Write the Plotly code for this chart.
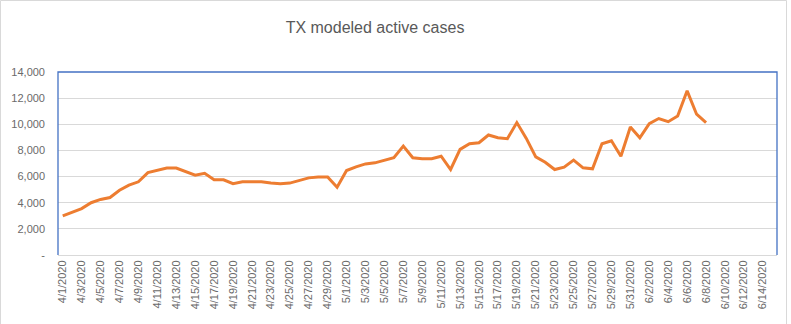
import pandas as pd
import plotly.graph_objects as go

categories = [f"{d.month}/{d.day}/{d.year}" for d in pd.date_range("2020-04-01", "2020-06-15")]
tick_labels = categories[::2]

active_cases = [
    3000, 3250, 3550, 4000, 4250, 4400, 4950, 5350, 5600, 6300,
    6500, 6650, 6650, 6350, 6100, 6250, 5750, 5750, 5450, 5600,
    5600, 5600, 5500, 5450, 5500, 5700, 5900, 5970, 5970, 5180,
    6460, 6740, 6970, 7050, 7230, 7440, 8330, 7440, 7360, 7360,
    7560, 6540, 8080, 8510, 8590, 9180, 8970, 8900, 10130, 8920,
    7510, 7100, 6540, 6720, 7260, 6670, 6590, 8510, 8740, 7560,
    9790, 8970, 10050, 10440, 10200, 10640, 12560, 10770, 10130,
]
y_ticks = [0, 2000, 4000, 6000, 8000, 10000, 12000, 14000]
y_tick_text = ["-", "2,000", "4,000", "6,000", "8,000", "10,000", "12,000", "14,000"]

W, H = 791, 324
ml, mr, mt, mb = 58, 14, 72, 69

fig = go.Figure()
fig.add_trace(go.Scatter(
    x=categories[:len(active_cases)], y=active_cases, mode="lines",
    line=dict(color="#ED7D31", width=3), hoverinfo="x+y", showlegend=False,
))

pw, ph = W - ml - mr, H - mt - mb
fig.update_layout(
    width=W, height=H,
    margin=dict(l=ml, r=mr, t=mt, b=mb),
    paper_bgcolor="white", plot_bgcolor="white",
    font=dict(family="Liberation Sans, Arial, sans-serif", color="#6a6a6a", size=11),
    title=dict(text="TX modeled active cases", x=375 / W, xanchor="center",
               y=1 - 27 / H, yanchor="middle",
               font=dict(size=16, color="#595959")),
    xaxis=dict(type="category", categoryorder="array", categoryarray=categories,
               range=[-0.5, len(categories) - 0.5],
               tickmode="array", tickvals=tick_labels, ticktext=tick_labels,
               tickangle=-90, showgrid=False, showline=True, linecolor="#D9D9D9",
               linewidth=1, ticks="", zeroline=False),
    yaxis=dict(range=[0, 14000], tickmode="array", tickvals=y_ticks, ticktext=y_tick_text,
               showgrid=True, gridcolor="#D9D9D9", gridwidth=1, zeroline=False,
               showline=False, ticks="", ticklabelstandoff=12),
    shapes=[
        dict(type="path", xref="paper", yref="paper",
             path="M 0,0 L 0,1 L 1,1 L 1,0",
             line=dict(color="#4472C4", width=1.3), layer="above"),
        dict(type="rect", xref="paper", yref="paper",
             x0=(0.5 - ml) / pw, x1=(W - 4.5 - ml) / pw,
             y0=(mb - H + 1.5) / ph, y1=(H - 0.5 - mb) / ph,
             line=dict(color="#D9D9D9", width=1)),
    ],
)

fig.write_html("out.html")
